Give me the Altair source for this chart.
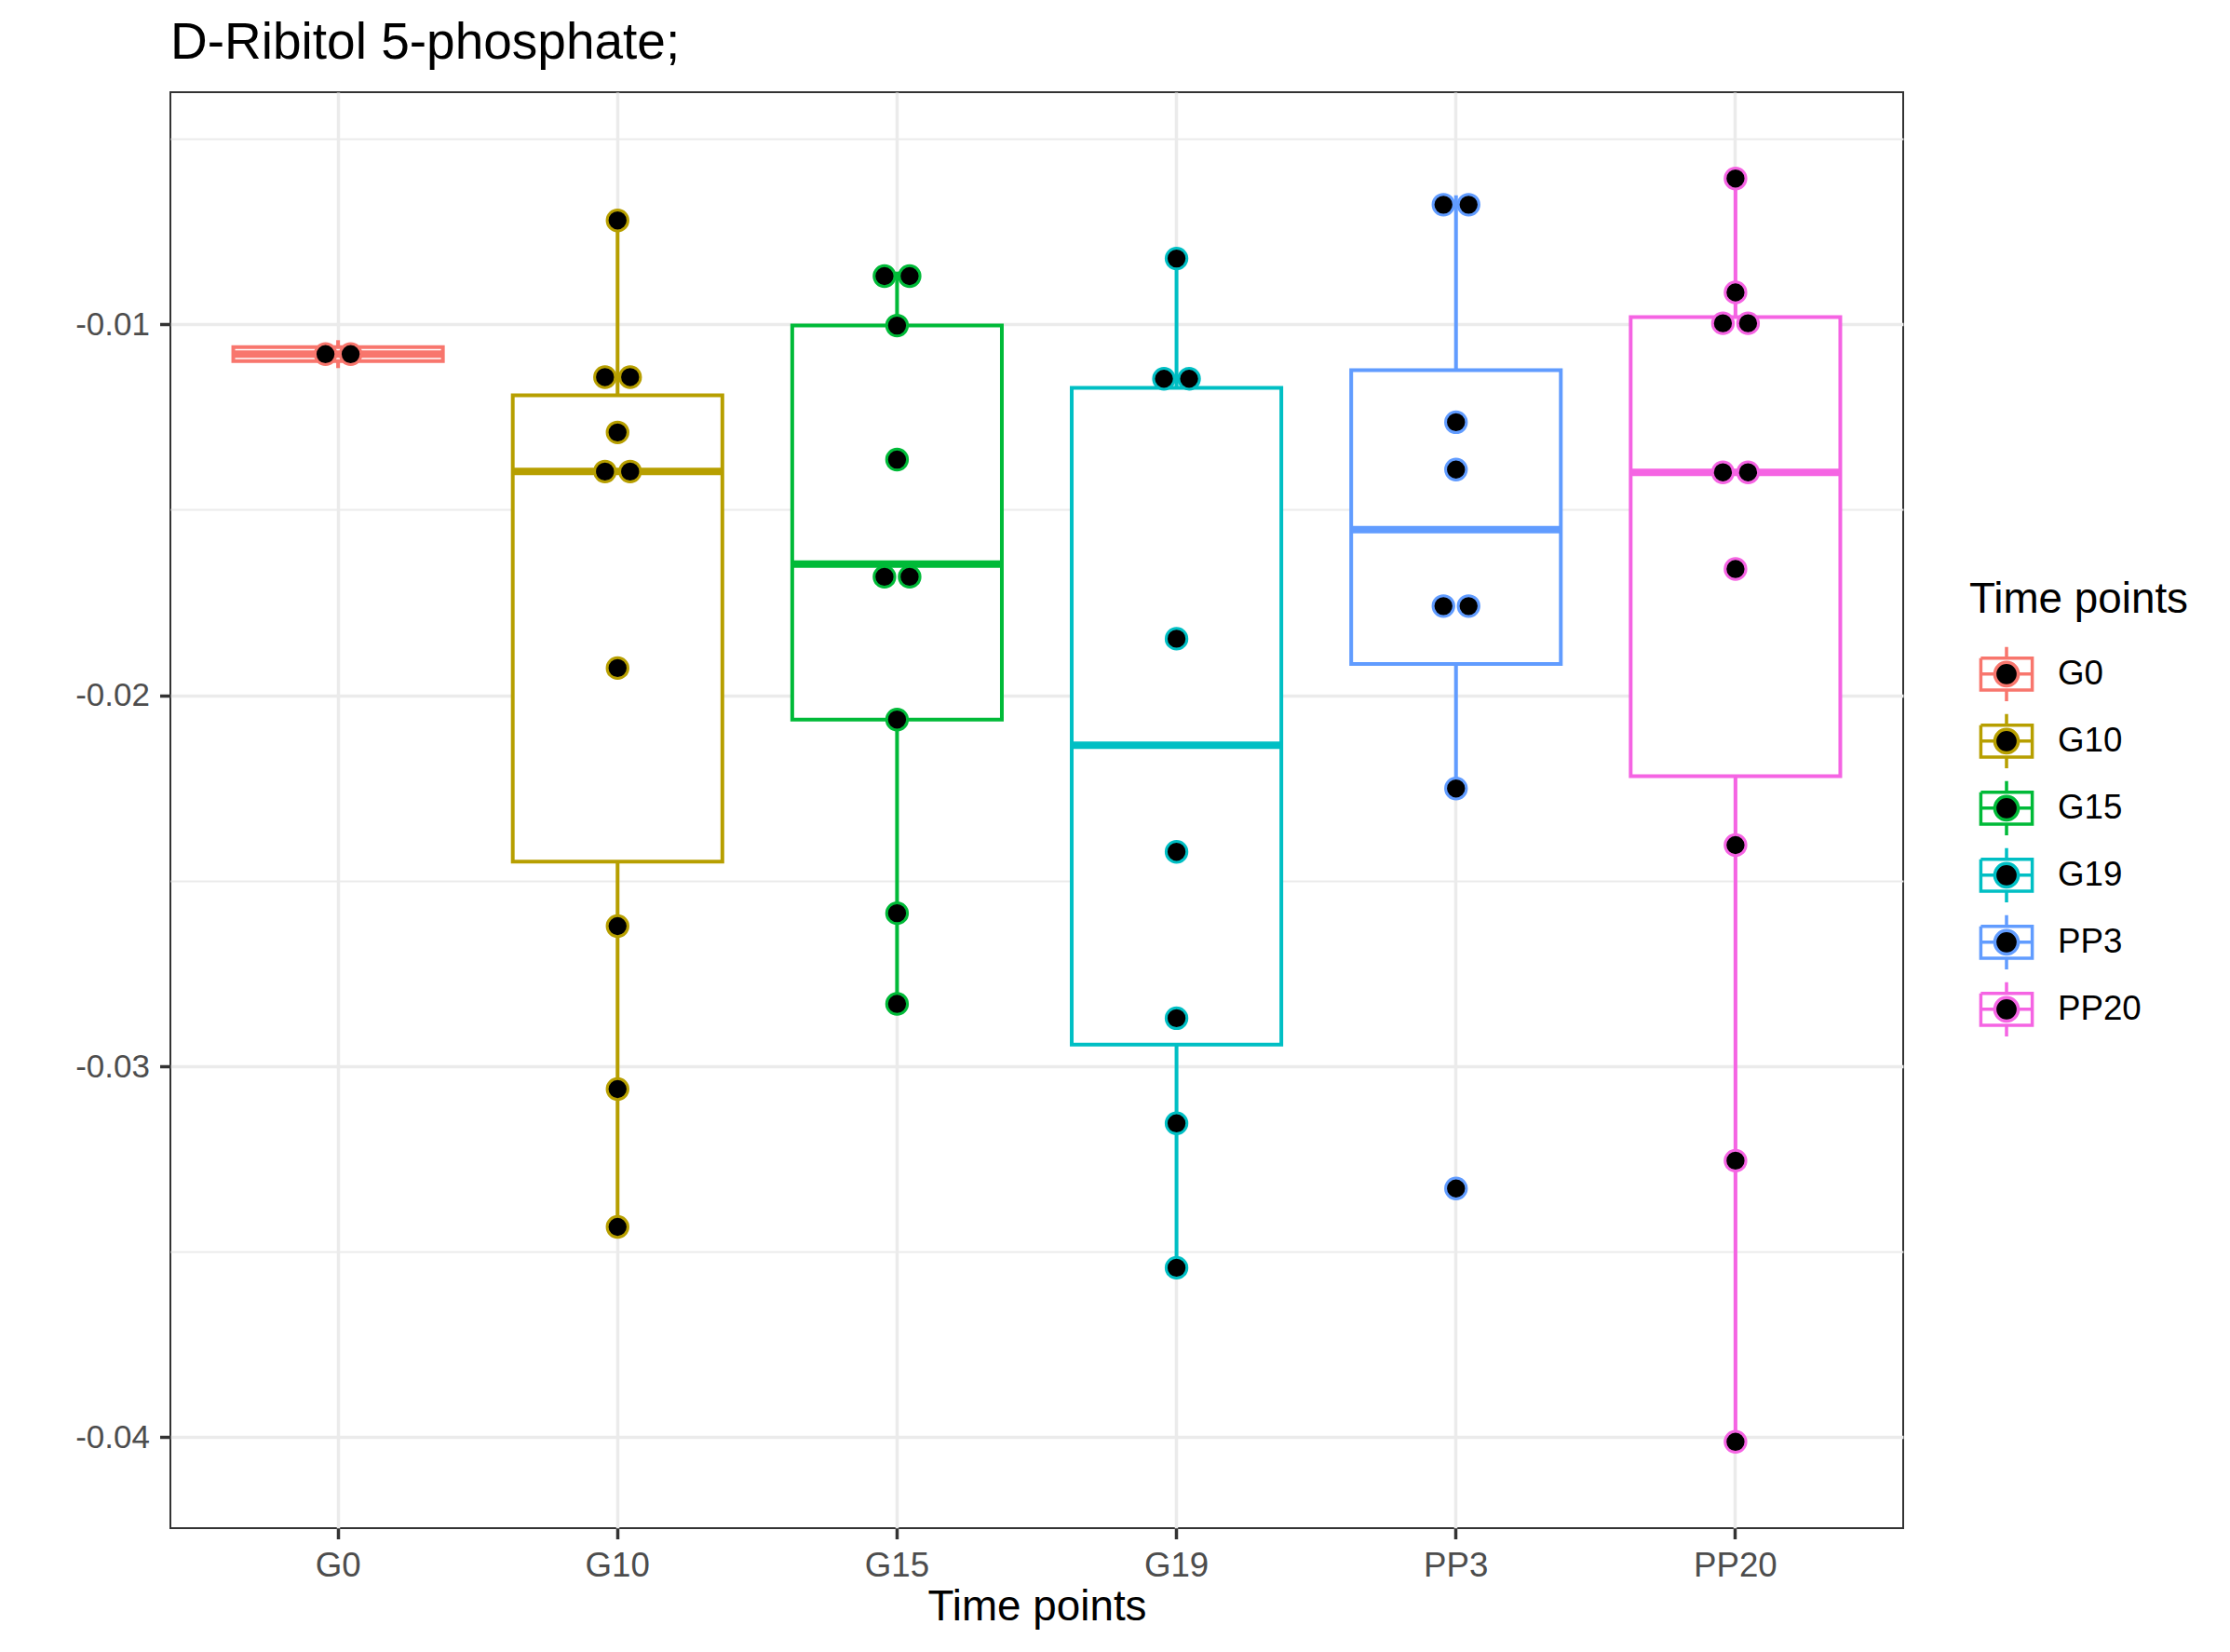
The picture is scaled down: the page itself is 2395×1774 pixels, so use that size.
import altair as alt
import numpy as np
import pandas as pd

chart_title = "D-Ribitol 5-phosphate;"
x_title = "Time points"
legend_title = "Time points"
categories = ["G0", "G10", "G15", "G19", "PP3", "PP20"]
palette = ["#F8766D", "#B79F00", "#00BA38", "#00BFC4", "#619CFF", "#F564E3"]

values_G0 = [-0.010428, -0.011180]
values_G10 = [-0.007200, -0.011265, -0.011581, -0.012913, -0.013768, -0.014168,
              -0.019266, -0.026222, -0.030614, -0.034329]
values_G15 = [-0.008580, -0.008820, -0.010033, -0.013647, -0.016463, -0.017149,
              -0.020654, -0.025874, -0.028319]
values_G19 = [-0.008226, -0.010982, -0.011954, -0.018475, -0.024219, -0.028705,
              -0.031538, -0.035431]
values_PP3 = [-0.006524, -0.007028, -0.012640, -0.013915, -0.017157, -0.018033,
              -0.022512, -0.033294]
values_PP20 = [-0.006070, -0.009140, -0.009634, -0.010310, -0.013790, -0.014190,
               -0.016596, -0.024038, -0.032545, -0.040123]

y_tick_values = [-0.04, -0.035, -0.03, -0.025, -0.02, -0.015, -0.01, -0.005]

groups = {
    "G0": values_G0, "G10": values_G10, "G15": values_G15,
    "G19": values_G19, "PP3": values_PP3, "PP20": values_PP20,
}

raw = pd.DataFrame([{"group": g, "value": v} for g in categories for v in groups[g]])
binwidth = (raw["value"].max() - raw["value"].min()) / 30.0

# box statistics (type-7 quantiles, 1.5 IQR whiskers)
stat_rows = []
for g in categories:
    v = np.asarray(groups[g], dtype=float)
    q1, med, q3 = np.percentile(v, [25, 50, 75])
    iqr = q3 - q1
    lo = v[v >= q1 - 1.5 * iqr].min()
    hi = v[v <= q3 + 1.5 * iqr].max()
    stat_rows.append(dict(group=g, q1=q1, median=med, q3=q3, lower=lo, upper=hi))
stats = pd.DataFrame(stat_rows)

# dot-density binning (as in a dot plot, centred stacks)
dot_rows = []
for g in categories:
    v = sorted(groups[g])
    bins = []
    end = -np.inf
    for x in v:
        if x >= end:
            bins.append([x])
            end = x + binwidth
        else:
            bins[-1].append(x)
    for b in bins:
        c = (min(b) + max(b)) / 2.0
        n = len(b)
        for i in range(n):
            dot_rows.append(dict(group=g, center=c, slot=i - (n - 1) / 2.0))
dots = pd.DataFrame(dot_rows)

lo_ext = raw["value"].min() - binwidth / 2
hi_ext = raw["value"].max() + binwidth / 2
pad = 0.05 * (hi_ext - lo_ext)
y_domain = [lo_ext - pad, hi_ext + pad]

FONT = "Liberation Sans"
DOT_STEP = 27
PLOT_W, PLOT_H = 1861, 1542
OUTER_PAD = 0.1
BOX_FRAC = 0.75
box_px = PLOT_W / (len(categories) + 2 * OUTER_PAD) * BOX_FRAC

legend_path = ("M-0.92,-0.57L0.92,-0.57L0.92,0.57L-0.92,0.57L-0.92,-0.57"
               "L-0.92,0.57L0.92,0.57L0.92,-0.57L-0.92,-0.57"
               "M-0.92,0L-0.42,0M0.42,0L0.92,0"
               "M0,-0.57L0,-0.97M0,0.57L0,0.97"
               "M0.42,0A0.42,0.42,0,1,1,-0.42,0A0.42,0.42,0,1,1,0.42,0Z")

x_scale = alt.Scale(domain=categories, paddingInner=0, paddingOuter=OUTER_PAD)
x_axis = alt.Axis(
    labelFontSize=36.7, labelColor="#4D4D4D", labelFont=FONT, labelAngle=0,
    titleFontSize=45.8, titleColor="black", titleFont=FONT, titleFontWeight="normal",
    titlePadding=3, tickColor="#333333", tickWidth=3.5, tickSize=11.5, labelPadding=11,
    domain=False, grid=True, gridColor="#EBEBEB", gridWidth=3.5, bandPosition=0.5,
)
minor_test = "round(datum.value*200) % 2 != 0"
y_scale = alt.Scale(domain=y_domain, nice=False, zero=False)
y_axis = alt.Axis(
    values=y_tick_values,
    labelExpr=minor_test + " ? '' : '-' + format(abs(datum.value), '.2f')",
    grid=True, gridColor="#EBEBEB",
    gridWidth={"condition": {"test": minor_test, "value": 1.8}, "value": 3.5},
    tickOpacity={"condition": {"test": minor_test, "value": 0}, "value": 1},
    domain=False, tickColor="#333333", tickWidth=3.5, tickSize=11.5, labelPadding=11,
    labelFontSize=35, labelColor="#4D4D4D", labelFont=FONT, labelOverlap=False,
    title=None,
)


def xe():
    return alt.X("group:N", sort=categories, title=x_title, scale=x_scale, axis=x_axis)


def ye(field):
    return alt.Y(field, scale=y_scale, axis=y_axis, title=None)


legend = alt.Legend(
    title=legend_title, orient="none", legendX=1932, legendY=523,
    symbolType=legend_path, symbolSize=3600, symbolFillColor="black",
    symbolStrokeWidth=3.5, titleFontSize=45.8, labelFontSize=36.7,
    titleFont=FONT, labelFont=FONT, titleColor="black", labelColor="black",
    titleFontWeight="normal", rowPadding=-2, titlePadding=24, labelOffset=23,
    symbolOffset=8, padding=0, titleLimit=600, labelLimit=300,
)
stroke_legend = alt.Stroke("group:N", scale=alt.Scale(domain=categories, range=palette),
                           legend=legend)

box_layers = []
for g, col in zip(categories, palette):
    base = alt.Chart(stats).transform_filter(alt.datum.group == g)
    box_layers.append(base.mark_rule(strokeWidth=4, color=col).encode(
        x=xe(), y=ye("q3:Q"), y2="upper:Q"))
    box_layers.append(base.mark_rule(strokeWidth=4, color=col).encode(
        x=xe(), y=ye("lower:Q"), y2="q1:Q"))
    box_layers.append(base.mark_bar(fill="white", stroke=col, strokeWidth=4,
                                    width=alt.RelativeBandSize(BOX_FRAC)).encode(
        x=xe(), y=ye("q1:Q"), y2="q3:Q"))
    box_layers.append(base.mark_tick(thickness=8, orient="horizontal", opacity=1,
                                     size=box_px, color=col).encode(
        x=xe(), y=ye("median:Q")))

dot_layers = []
for s in sorted(dots["slot"].unique()):
    dot_layers.append(
        alt.Chart(dots).transform_filter(f"datum.slot == {s}").mark_circle(
            size=500, fill="black", strokeWidth=3, opacity=1, fillOpacity=1,
            xOffset=float(s) * DOT_STEP,
        ).encode(x=xe(), y=ye("center:Q"), stroke=stroke_legend)
    )

chart = alt.layer(*box_layers, *dot_layers).properties(
    width=PLOT_W, height=PLOT_H,
    padding={"left": 175, "top": 91, "right": 343, "bottom": 125},
    autosize=alt.AutoSizeParams(type="none"),
    title=alt.TitleParams(text=chart_title, anchor="start", frame="group", fontSize=55,
                          font=FONT, fontWeight="normal", color="black",
                          baseline="alphabetic", offset=36, dy=55),
).configure(font=FONT).configure_view(stroke="#333333", strokeWidth=2)

chart.save("out.html", embed_options={"renderer": "svg", "actions": False})
